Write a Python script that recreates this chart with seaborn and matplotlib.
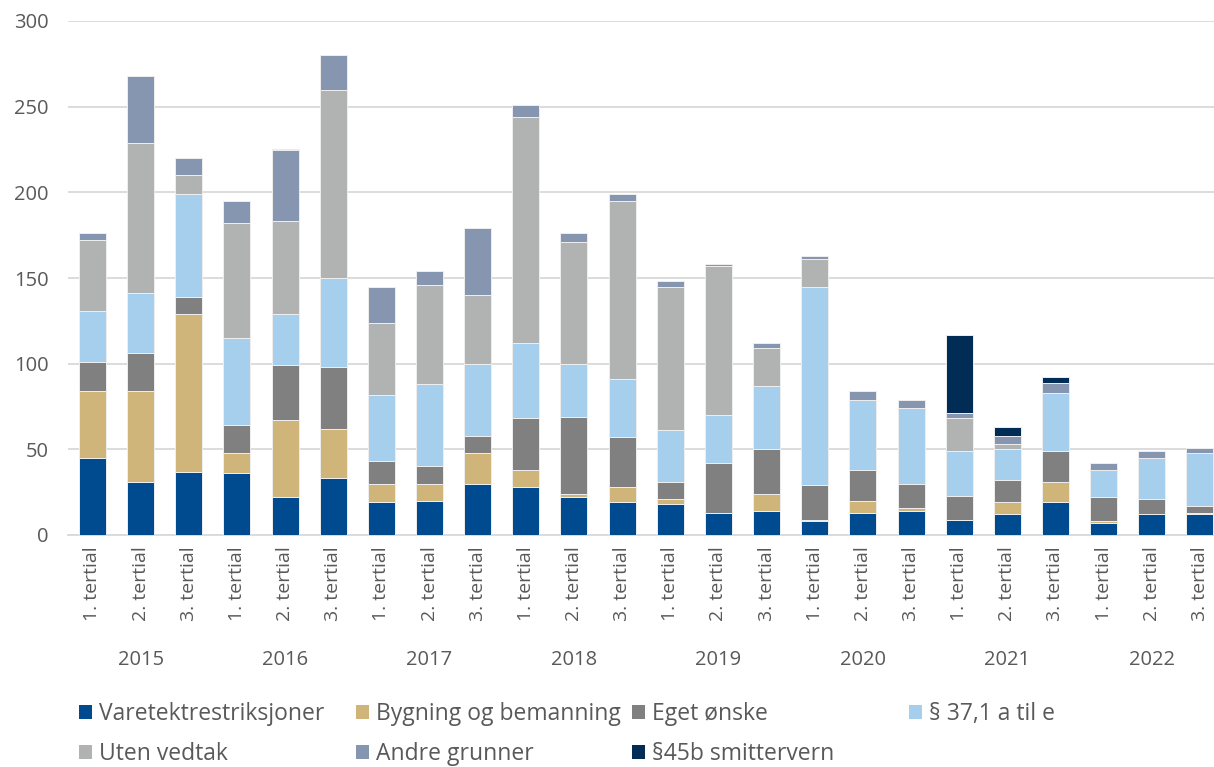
import numpy as np
import pandas as pd
import matplotlib
matplotlib.use("Agg")
import matplotlib.pyplot as plt
import matplotlib.transforms as mtransforms
from matplotlib.patches import Patch
import seaborn as sns

years = ["2015", "2016", "2017", "2018", "2019", "2020", "2021", "2022"]
terms = ["1. tertial", "2. tertial", "3. tertial"]

varetekt = [45, 31, 37, 36, 22, 33, 19, 20, 30, 28, 22, 19, 18, 13, 14, 8, 13, 14, 9, 12, 19, 7, 12, 12]
bygning = [39, 53, 92, 12, 45, 29, 11, 10, 18, 10, 2, 9, 3, 0, 10, 1, 7, 2, 0, 7, 12, 1, 0, 1]
eget = [17, 22, 10, 16, 32, 36, 13, 10, 10, 30, 45, 29, 10, 29, 26, 20, 18, 14, 14, 13, 18, 14, 9, 4]
par37 = [30, 35, 60, 51, 30, 52, 39, 48, 42, 44, 31, 34, 30, 28, 37, 116, 41, 44, 26, 18, 34, 16, 24, 31]
uten = [41, 88, 11, 67, 54, 110, 42, 58, 40, 132, 71, 104, 84, 87, 22, 16, 0, 0, 19, 3, 0, 0, 0, 0]
andre = [4, 39, 10, 13, 42, 20, 21, 8, 39, 7, 5, 4, 3, 1, 3, 2, 5, 5, 3, 5, 6, 4, 4, 3]
smitte = [0, 0, 0, 0, 0, 0, 0, 0, 0, 0, 0, 0, 0, 0, 0, 0, 0, 0, 46, 5, 3, 0, 0, 0]

series_names = ["Varetektrestriksjoner", "Bygning og bemanning", "Eget ønske",
                "§ 37,1 a til e", "Uten vedtak", "Andre grunner", "§45b smittervern"]
series_vals = [varetekt, bygning, eget, par37, uten, andre, smitte]
colors = ["#004a8f", "#cfb57a", "#808080", "#a6cfee", "#b0b3b2", "#8696b0", "#002c55"]

sns.set_theme(style="white")
plt.rcParams["font.family"] = ["Open Sans", "DejaVu Sans"]
text_color = "#595959"

W, H = 1214, 767
fig = plt.figure(figsize=(W / 100, H / 100), dpi=100)
ax = fig.add_axes([68.4 / W, 232 / H, (1224 - 68.4) / W, 514 / H])

keys = [f"{y} {t}" for y in years for t in terms]
bottom = np.zeros(len(keys))
for name, vals, col in zip(series_names, series_vals, colors):
    df = pd.DataFrame({"k": keys, "v": vals})
    sns.barplot(data=df, x="k", y="v", order=keys, bottom=bottom.copy(), color=col,
                saturation=1, width=0.56, edgecolor="#eeeeee", linewidth=0.7,
                errorbar=None, ax=ax, zorder=3)
    bottom += np.array(vals, dtype=float)

ax.set_xlim(-0.5, len(keys) - 0.5)
ax.set_ylim(0, 300)
ax.set_yticks(np.arange(0, 301, 50))
ax.yaxis.grid(True, color="#d9d9d9", linewidth=1.3, zorder=0)
ax.xaxis.grid(False)
ax.set_axisbelow(True)
for s in ["top", "right", "left"]:
    ax.spines[s].set_visible(False)
ax.spines["bottom"].set_color("#d9d9d9")
ax.spines["bottom"].set_linewidth(1.3)
ax.set_xlabel("")
ax.set_ylabel("")
ax.set_xticks(range(len(keys)))
ax.set_xticklabels(terms * len(years), rotation=90)
ax.tick_params(axis="x", length=0, pad=8, labelsize=14, labelcolor=text_color)
ax.tick_params(axis="y", length=0, pad=14, labelsize=14.5, labelcolor=text_color)

trans = mtransforms.blended_transform_factory(ax.transData, fig.transFigure)
for i, y in enumerate(years):
    ax.text(3 * i + 1, (H - 660) / H, y, transform=trans, ha="center", va="center",
            fontsize=14.5, color=text_color)

legend_pos = [(79, 714), (356, 714), (632, 714), (909, 714),
              (79, 754), (356, 754), (632, 754)]
for (px, py), name, col in zip(legend_pos, series_names, colors):
    leg = fig.legend(handles=[Patch(facecolor=col, edgecolor="none")], labels=[name],
                     loc="center left", bbox_to_anchor=(px / W, (H - py) / H),
                     frameon=False, fontsize=16.5, handlelength=0.55, handleheight=0.55,
                     handletextpad=0.32, borderpad=0, borderaxespad=0)
    for t in leg.get_texts():
        t.set_color(text_color)

fig.savefig("out.png", dpi=100)
